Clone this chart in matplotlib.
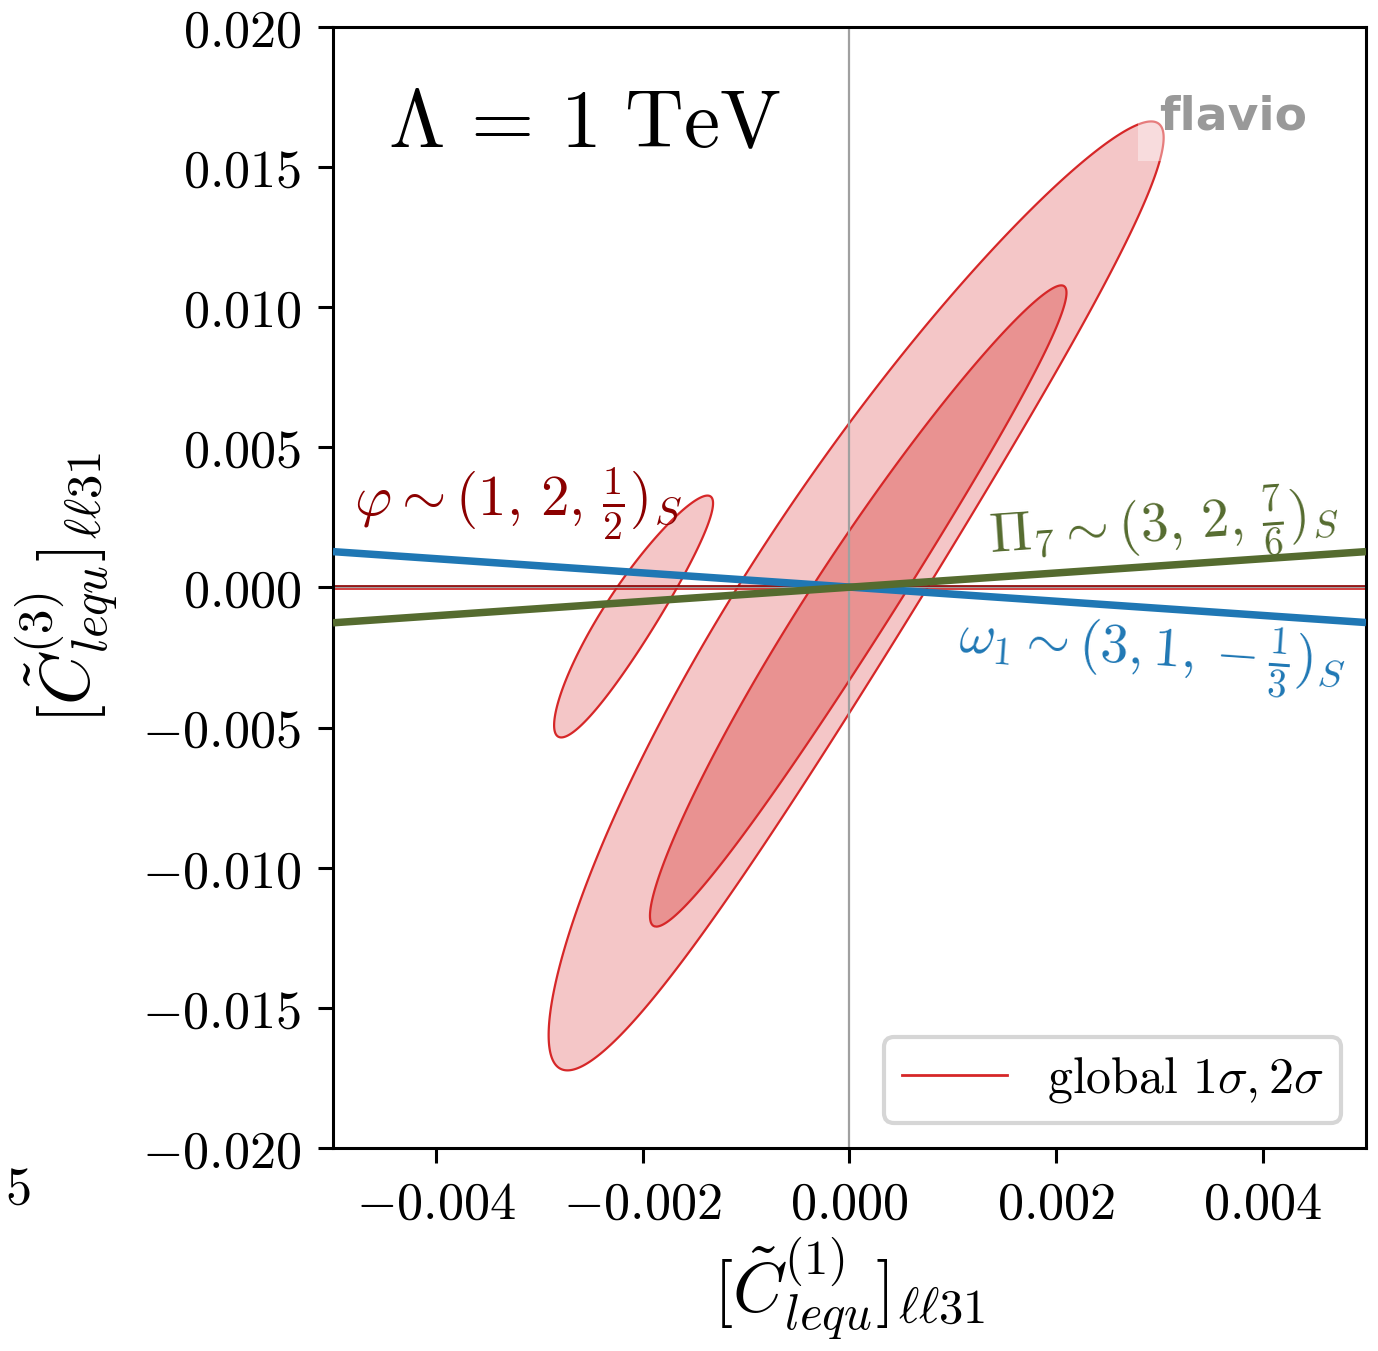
import numpy as np
import matplotlib
matplotlib.use("Agg")
import matplotlib.pyplot as plt
from matplotlib.lines import Line2D

plt.rcParams['mathtext.fontset'] = 'cm'
plt.rcParams['font.family'] = ['DejaVu Sans']

# ---------------- data ----------------
x_lim = [-0.005, 0.005]
y_lim = [-0.020, 0.020]
x_ticks = [-0.004, -0.002, 0.0, 0.002, 0.004]
x_tick_labels = [r'$-0.004$', r'$-0.002$', r'$0.000$', r'$0.002$', r'$0.004$']
y_ticks = [-0.020, -0.015, -0.010, -0.005, 0.0, 0.005, 0.010, 0.015, 0.020]
y_tick_labels = [r'$-0.020$', r'$-0.015$', r'$-0.010$', r'$-0.005$', r'$0.000$',
                 r'$0.005$', r'$0.010$', r'$0.015$', r'$0.020$']

# global fit regions: (top tip x, y), (bottom tip x, y), half width, bend of centre line
outer_top = (0.00292, 0.01663)
outer_bottom = (-0.00273, -0.01723)
outer_halfwidth = 0.00092
outer_bend = -0.00031

inner_top = (0.00205, 0.01078)
inner_bottom = (-0.00187, -0.01210)
inner_halfwidth = 0.00047
inner_bend = -0.00010

island_top = (-0.001375, 0.00328)
island_bottom = (-0.00279, -0.00535)
island_halfwidth = 0.00030
island_bend = -0.00005

# single-field directions
line_x = [-0.005, 0.005]
omega1_y = [0.00128, -0.00125]
pi7_y = [-0.00126, 0.00128]
phi_band_y = [0.00007, -0.00007]

# ---------------- helpers ----------------
def region(X, Y, top, bottom, w, bend):
    yc = 0.5 * (top[1] + bottom[1])
    h = 0.5 * (top[1] - bottom[1])
    t = (Y - yc) / h
    cline = bottom[0] + (top[0] - bottom[0]) * (Y - bottom[1]) / (top[1] - bottom[1])
    c = cline + bend * (1 - t ** 2)
    return ((X - c) / w) ** 2 + t ** 2

# ---------------- figure ----------------
fig = plt.figure(figsize=(6.89, 6.755), dpi=200)
ax = fig.add_axes([0.24165, 0.15026, 0.74964, 0.82976])

gx = np.linspace(x_lim[0], x_lim[1], 1200)
gy = np.linspace(y_lim[0], y_lim[1], 1600)
X, Y = np.meshgrid(gx, gy)
F_out = np.minimum(region(X, Y, outer_top, outer_bottom, outer_halfwidth, outer_bend),
                   region(X, Y, island_top, island_bottom, island_halfwidth, island_bend))
F_in = region(X, Y, inner_top, inner_bottom, inner_halfwidth, inner_bend)

light = '#f4c6c7'
dark = '#e99291'
edge = '#d62728'
ax.contourf(X, Y, F_out, levels=[0, 1], colors=[light], zorder=1)
ax.contour(X, Y, F_out, levels=[1], colors=[edge], linewidths=0.8, zorder=1.2)
ax.contourf(X, Y, F_in, levels=[0, 1], colors=[dark], zorder=1.4)
ax.contour(X, Y, F_in, levels=[1], colors=[edge], linewidths=0.8, zorder=1.6)

ax.axhline(0, color='#a0a0a0', lw=0.8, zorder=2)
ax.axvline(0, color='#a0a0a0', lw=0.8, zorder=2)
ax.axhline(phi_band_y[0], color='#8b0000', lw=0.6, zorder=2.5)
ax.axhline(phi_band_y[1], color='#cc2222', lw=0.6, zorder=2.5)

ax.plot(line_x, omega1_y, color='#1f77b4', lw=2.7, zorder=3, solid_capstyle='butt')
ax.plot(line_x, pi7_y, color='#556b2f', lw=2.7, zorder=3, solid_capstyle='butt')

ax.set_xlim(x_lim)
ax.set_ylim(y_lim)
ax.set_xticks(x_ticks, labels=x_tick_labels)
ax.set_yticks(y_ticks, labels=y_tick_labels)
ax.tick_params(axis='both', direction='out', length=5.4, width=1.1, labelsize=18.8, pad=6)
for s in ax.spines.values():
    s.set_linewidth(1.1)

ax.set_xlabel(r'$[\tilde{C}^{(1)}_{lequ}]_{\ell\ell 31}$', fontsize=25, labelpad=2)
ax.set_ylabel(r'$[\tilde{C}^{(3)}_{lequ}]_{\ell\ell 31}$', fontsize=25, labelpad=8)

ax.text(-0.00480, 0.00300, r'$\varphi \sim (\mathbf{1},\, \mathbf{2},\, \frac{1}{2})_S$',
        color='#8b0000', fontsize=20.5, ha='left', va='center', zorder=6)
ax.text(0.00305, 0.00212, r'$\Pi_7 \sim (\mathbf{3},\, \mathbf{2},\, \frac{7}{6})_S$',
        color='#556b2f', fontsize=20, ha='center', va='center', rotation=4, zorder=6)
ax.text(0.00293, -0.00240, r'$\omega_1 \sim (\mathbf{3}, \mathbf{1}, -\frac{1}{3})_S$',
        color='#1f77b4', fontsize=20, ha='center', va='center', rotation=-4, zorder=6)

ax.text(0.053, 0.9126, r'$\Lambda\,=\,1\ \mathrm{TeV}$', transform=ax.transAxes,
        fontsize=29.3, ha='left', va='center', zorder=6)

ax.text(0.8, 0.94, 'flavio', transform=ax.transAxes, fontsize=17, fontweight='bold',
        va='top', ha='left', alpha=0.4, zorder=7,
        bbox=dict(facecolor='white', alpha=0.4, lw=0, boxstyle='square,pad=0.45'))

handle = Line2D([], [], color=edge, lw=1.0)
leg = ax.legend([handle], [r'$\mathrm{global}\ 1\sigma, 2\sigma$'], loc='lower right',
                fontsize=18, handlelength=2.1, handletextpad=0.8, borderaxespad=0.5,
                borderpad=0.35, fancybox=True, framealpha=0.8, edgecolor='0.8')
leg.get_frame().set_linewidth(1.5)
leg.set_zorder(8)

fig.text(5 / 1378, 1 - 1190 / 1351, r'$5$', fontsize=18.8, ha='left', va='center')

fig.savefig('out.png', dpi=200)
